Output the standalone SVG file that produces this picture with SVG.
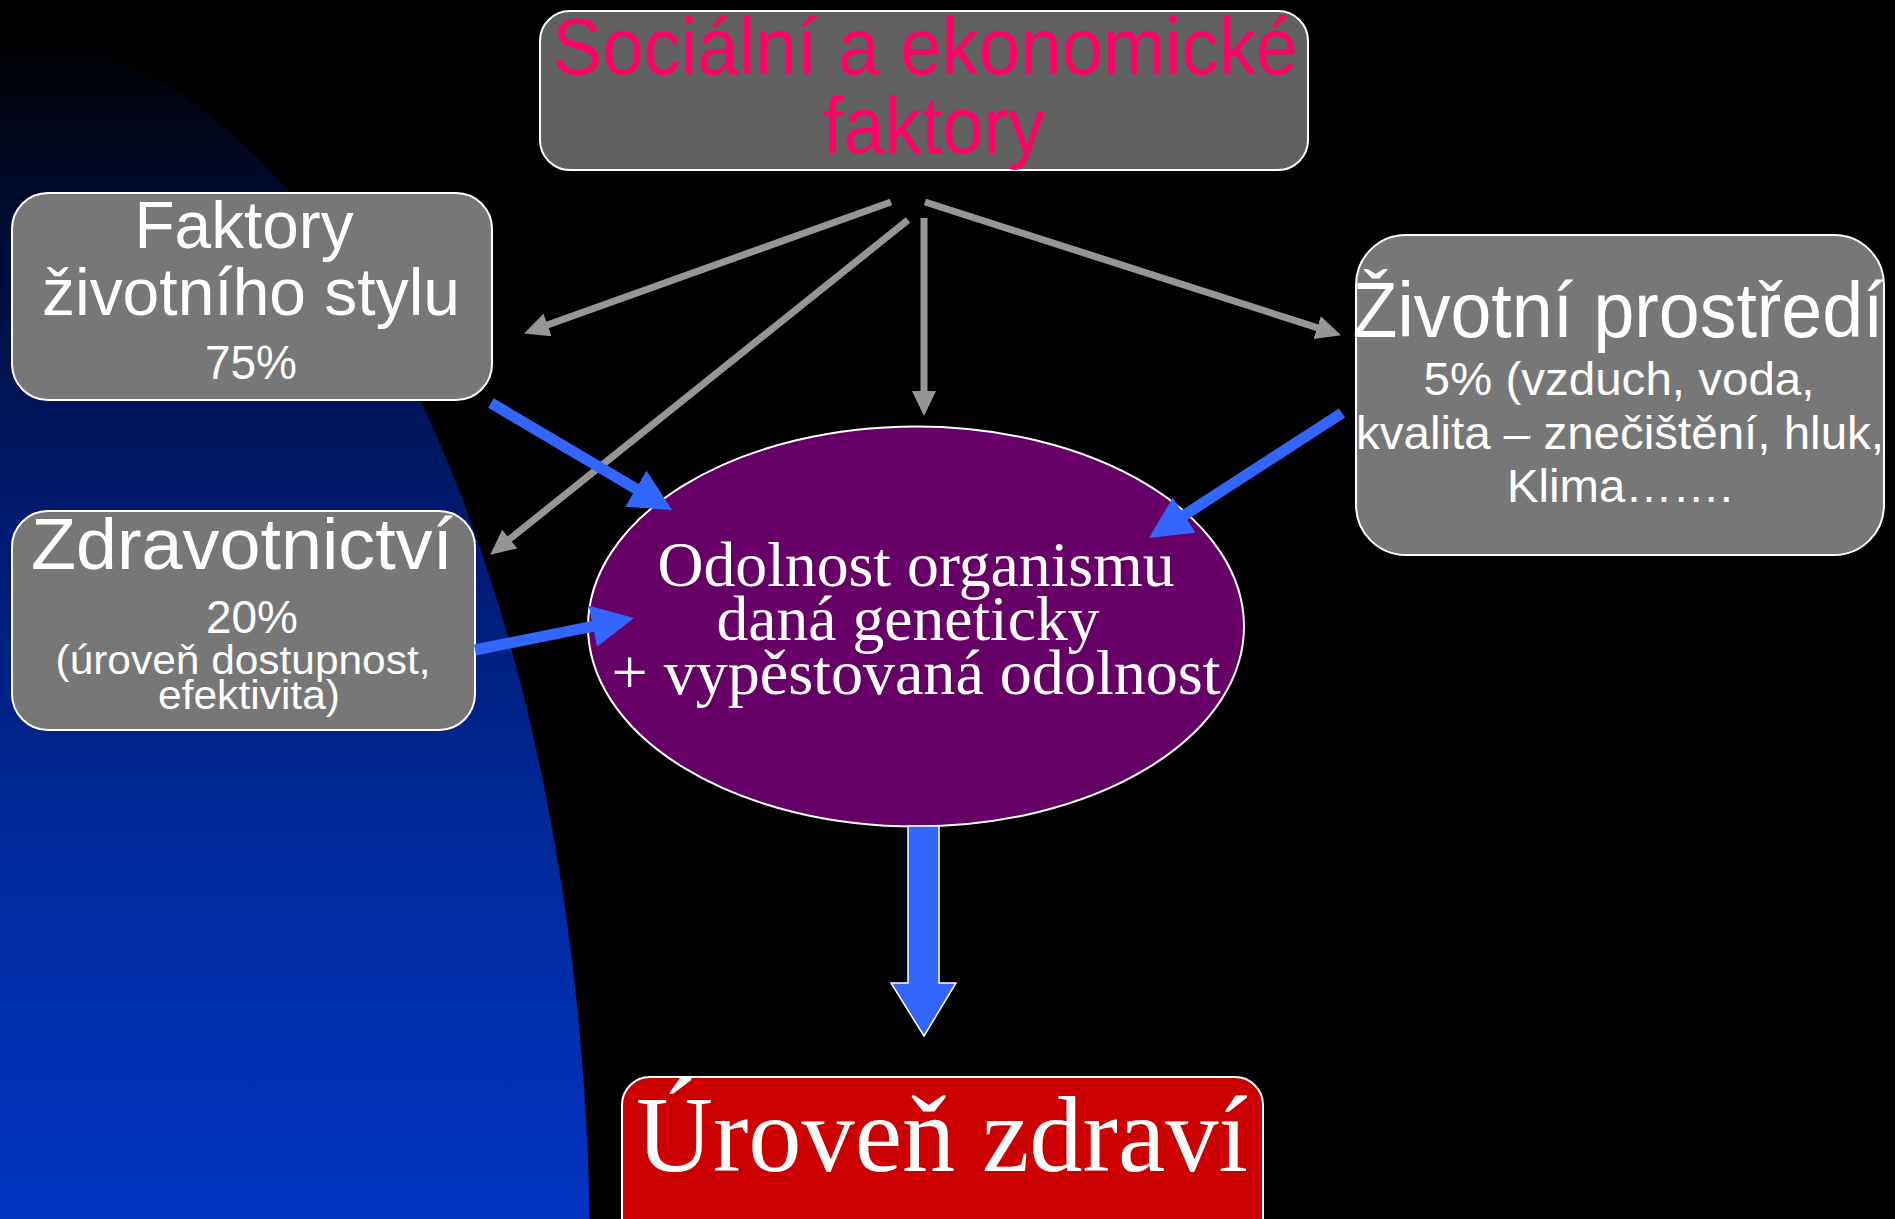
<svg xmlns="http://www.w3.org/2000/svg" width="1895" height="1219" viewBox="0 0 1895 1219">
<style>
.box{stroke:#ffffff;stroke-width:2}
.grey{fill:#777777}
.sans{font-family:"Liberation Sans Narrow","Liberation Sans",Arial,sans-serif;fill:#ffffff;text-anchor:middle}
.serif{font-family:"Liberation Serif","Times New Roman",serif;fill:#ffffff;text-anchor:middle}
.gline{stroke:#969696;stroke-width:7;fill:none}
.bline{stroke:#3366ff;stroke-width:11;fill:none}
</style>
<defs>
<linearGradient id="bg" gradientUnits="userSpaceOnUse" x1="0" y1="35" x2="0" y2="1219">
<stop offset="0" stop-color="#000000"/>
<stop offset="0.15" stop-color="#000a30"/>
<stop offset="0.4" stop-color="#001a6e"/>
<stop offset="0.7" stop-color="#002a9e"/>
<stop offset="1" stop-color="#0033c0"/>
</linearGradient>
<marker id="gh" markerUnits="userSpaceOnUse" markerWidth="26" markerHeight="26" refX="4" refY="12" orient="auto">
<path d="M0,0 L25,12 L0,24 z" fill="#969696"/>
</marker>
<marker id="bh" markerUnits="userSpaceOnUse" markerWidth="44" markerHeight="44" refX="6" refY="21" orient="auto">
<path d="M0,0 L42,21 L0,42 z" fill="#3366ff"/>
</marker>
</defs>
<rect x="0" y="0" width="1895" height="1219" fill="#000000"/>
<ellipse cx="0" cy="1260" rx="590" ry="1225" fill="url(#bg)"/>

<g id="socialni">
<rect class="box" x="540" y="11" width="768" height="159" rx="30" fill="#606060"/>
<text class="sans" x="925" y="74" font-size="80" style="fill:#ff0066" textLength="745" lengthAdjust="spacingAndGlyphs">Sociální a ekonomické</text>
<text class="sans" x="934" y="153" font-size="80" style="fill:#ff0066" textLength="222" lengthAdjust="spacingAndGlyphs">faktory</text>
</g>

<g id="faktory">
<rect class="box grey" x="12" y="193" width="480" height="207" rx="36"/>
<text class="sans" x="244" y="248" font-size="66" textLength="219" lengthAdjust="spacingAndGlyphs">Faktory</text>
<text class="sans" x="251" y="315" font-size="66" textLength="418" lengthAdjust="spacingAndGlyphs">životního stylu</text>
<text class="sans" x="251" y="379" font-size="48" textLength="92" lengthAdjust="spacingAndGlyphs">75%</text>
</g>

<g id="zdravotnictvi">
<rect class="box grey" x="12" y="511" width="463" height="219" rx="36"/>
<text class="sans" x="242" y="569" font-size="72" textLength="422" lengthAdjust="spacingAndGlyphs">Zdravotnictví</text>
<text class="sans" x="252" y="633" font-size="46" textLength="92" lengthAdjust="spacingAndGlyphs">20%</text>
<text class="sans" x="243" y="674" font-size="40" textLength="375" lengthAdjust="spacingAndGlyphs">(úroveň dostupnost,</text>
<text class="sans" x="249" y="709" font-size="40" textLength="182" lengthAdjust="spacingAndGlyphs">efektivita)</text>
</g>

<g id="zivotni">
<rect class="box grey" x="1356" y="235" width="528" height="320" rx="50"/>
<text class="sans" x="1618" y="337" font-size="78" textLength="531" lengthAdjust="spacingAndGlyphs">Životní prostředí</text>
<text class="sans" x="1619" y="395" font-size="46" textLength="391" lengthAdjust="spacingAndGlyphs">5% (vzduch, voda,</text>
<text class="sans" x="1620" y="449" font-size="46" textLength="528" lengthAdjust="spacingAndGlyphs">kvalita – znečištění, hluk,</text>
<text class="sans" x="1620" y="502" font-size="46" textLength="226" lengthAdjust="spacingAndGlyphs">Klima…….</text>
</g>

<g id="odolnost">
<ellipse cx="916" cy="626.5" rx="328" ry="200" fill="#660066" stroke="#ffffff" stroke-width="2"/>
<text class="serif" x="916" y="586" font-size="64" textLength="517" lengthAdjust="spacingAndGlyphs">Odolnost organismu</text>
<text class="serif" x="908" y="640" font-size="64" textLength="383" lengthAdjust="spacingAndGlyphs">daná geneticky</text>
<text class="serif" x="916" y="694" font-size="64" textLength="609" lengthAdjust="spacingAndGlyphs">+ vypěstovaná odolnost</text>
</g>

<g id="uroven">
<rect class="box" x="622" y="1077" width="641" height="170" rx="28" fill="#cc0000"/>
<text class="serif" x="942" y="1171" font-size="107" textLength="612" lengthAdjust="spacingAndGlyphs">Úroveň zdraví</text>
</g>

<g id="connectors">
<line class="gline" x1="891" y1="202" x2="543.8" y2="326.3" marker-end="url(#gh)"/>
<line class="gline" x1="908" y1="220" x2="506.6" y2="541.5" marker-end="url(#gh)"/>
<line class="gline" x1="924" y1="218" x2="924" y2="395" marker-end="url(#gh)"/>
<line class="gline" x1="925" y1="202" x2="1321" y2="328.9" marker-end="url(#gh)"/>
<line class="bline" x1="491" y1="403" x2="641" y2="491.7" marker-end="url(#bh)"/>
<line class="bline" x1="475" y1="650" x2="598.7" y2="625.1" marker-end="url(#bh)"/>
<line class="bline" x1="1342" y1="413" x2="1179.2" y2="518.4" marker-end="url(#bh)"/>
<path d="M908,826 L939,826 L939,983 L956,983 L924,1036 L891,983 L908,983 z" fill="#3366ff" stroke="#ffffff" stroke-width="1.5"/>
</g>
</svg>
